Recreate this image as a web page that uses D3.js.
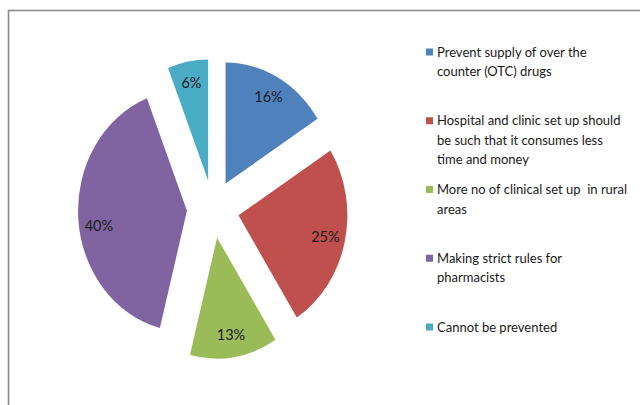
<!DOCTYPE html>
<html>
<head>
<meta charset="utf-8">
<script src="https://cdn.jsdelivr.net/npm/d3@7"></script>
<style>
  html, body { margin: 0; padding: 0; background: #fff; }
  svg { display: block; }
  text { font-family: Lato, "Liberation Sans", sans-serif; fill: #1a1a1a; }
</style>
</head>
<body>
<svg id="chart" width="640" height="405"></svg>
<script>
// Survey answers: how self-medication could be prevented
const categories = [
  "Prevent supply of over the\ncounter (OTC) drugs",
  "Hospital and clinic set up should\nbe such that it consumes less\ntime and money",
  "More no of clinical set up  in rural\nareas",
  "Making strict rules for\npharmacists",
  "Cannot be prevented"
];
const values = [16, 25, 13, 40, 6];
const colors = ["#4F81BD", "#C0504D", "#9BBB59", "#8064A2", "#4BACC6"];

const svg = d3.select("#chart");
const W = 640, H = 405;

// chart frame (runs past the right and bottom edges)
svg.append("rect")
  .attr("x", 8.5).attr("y", 10.5)
  .attr("width", W + 20).attr("height", H + 20)
  .attr("fill", "#fff")
  .attr("stroke", "#8a8a8a")
  .attr("stroke-width", 1.6);

const cx = 213, cy = 209;
const R = 121;          // vertical radius
const sx = 0.9;         // horizontal squash of the plot
const explode = 29;     // distance each slice is pulled out
const labelR = 99;

const pie = d3.pie().sort(null).value(d => d).startAngle(0).endAngle(2 * Math.PI);
const arcs = pie(values);
const arc = d3.arc().innerRadius(0).outerRadius(R);

const plot = svg.append("g").attr("transform", `translate(${cx},${cy}) scale(${sx},1)`);

const mid = d => (d.startAngle + d.endAngle) / 2;

plot.selectAll("path.slice")
  .data(arcs)
  .join("path")
  .attr("class", "slice")
  .attr("d", arc)
  .attr("fill", (d, i) => colors[i])
  .attr("transform", d => `translate(${Math.sin(mid(d)) * explode},${-Math.cos(mid(d)) * explode})`);

// percentage labels, placed in page space so the text is not squashed
const fmt = d3.format(".0f");
const labelAngle = (d, i) => mid(d) - (d.endAngle - d.startAngle > 2.2 ? 0.094 : 0);
svg.selectAll("text.pct")
  .data(arcs)
  .join("text")
  .attr("class", "pct")
  .attr("x", (d, i) => cx + sx * (Math.sin(mid(d)) * explode + Math.sin(labelAngle(d, i)) * labelR))
  .attr("y", (d, i) => cy - Math.cos(mid(d)) * explode - Math.cos(labelAngle(d, i)) * labelR)
  .attr("text-anchor", "middle")
  .attr("dy", "0.35em")
  .attr("font-size", 14.5)
  .text(d => fmt(d.value) + "%");

// legend
const ly = d3.scalePoint().domain(d3.range(categories.length)).range([52, 327]);
const lineH = 19.5;
const leg = svg.append("g");
const items = leg.selectAll("g.item")
  .data(categories)
  .join("g")
  .attr("class", "item")
  .attr("transform", (d, i) => `translate(426,${ly(i)})`);

items.append("rect")
  .attr("x", 0).attr("y", -3.5)
  .attr("width", 7).attr("height", 7)
  .attr("fill", (d, i) => colors[i]);

items.append("text")
  .attr("x", 11)
  .attr("font-size", 13)
  .selectAll("tspan")
  .data(d => d.split("\n"))
  .join("tspan")
  .attr("x", 11)
  .attr("y", (d, j) => j * lineH)
  .attr("dy", "0.35em")
  .style("white-space", "pre")
  .text(d => d);
</script>
</body>
</html>
